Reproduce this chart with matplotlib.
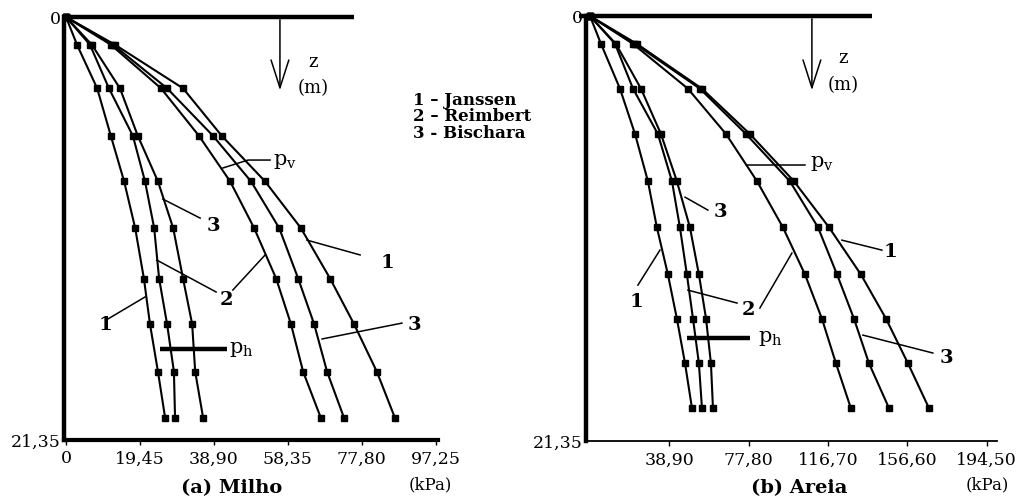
import matplotlib
matplotlib.use("Agg")
import matplotlib.pyplot as plt

# --> Serif look, with the same family inside the subscripts.
plt.rcParams['font.family'] = 'DejaVu Serif'
plt.rcParams['mathtext.fontset'] = 'dejavuserif'

# --> Depths of the computed points (m).
z_milho = [0, 1.4, 3.6, 6.0, 8.3, 10.65, 13.2, 15.5, 17.9, 20.25]
z_areia = [0, 1.4, 3.65, 5.93, 8.3, 10.62, 12.98, 15.2, 17.45, 19.7]

# --> (a) Milho: horizontal (ph) and vertical (pv) pressures, kPa.
ph_milho_janssen = [0, 2.9, 8.2, 11.8, 15.3, 18.2, 20.5, 22.1, 24.2, 26.1]
ph_milho_reimbert = [0, 6.3, 11.3, 17.6, 20.8, 23.2, 24.5, 26.6, 28.4, 28.7]
ph_milho_bischara = [0, 6.8, 14.2, 18.9, 24.2, 28.2, 30.8, 33.2, 34.0, 36.1]
pv_milho_janssen = [0, 12.9, 30.8, 41.0, 52.4, 61.8, 69.5, 75.8, 81.8, 86.6]
pv_milho_reimbert = [0, 11.8, 25.0, 35.0, 43.2, 49.5, 55.3, 59.2, 62.4, 67.1]
pv_milho_bischara = [0, 12.4, 26.6, 38.7, 48.7, 56.1, 61.1, 65.3, 68.7, 73.2]

# --> (b) Areia: horizontal (ph) and vertical (pv) pressures, kPa.
ph_areia_janssen = [0, 5.4, 14.7, 22.1, 28.4, 32.8, 38.2, 42.6, 46.6, 50.0]
ph_areia_reimbert = [0, 12.3, 21.1, 33.3, 40.2, 44.1, 47.5, 50.5, 53.4, 54.9]
ph_areia_bischara = [0, 12.7, 25.0, 34.8, 42.6, 49.0, 53.4, 56.9, 59.3, 60.3]
pv_areia_janssen = [0, 23.0, 54.9, 78.4, 100.0, 117.2, 132.8, 145.1, 155.9, 166.2]
pv_areia_reimbert = [0, 21.1, 48.0, 66.7, 81.9, 94.6, 105.4, 113.7, 120.6, 127.9]
pv_areia_bischara = [0, 22.1, 53.9, 76.5, 98.0, 111.8, 121.1, 129.4, 136.8, 146.6]

# --> Axis ticks and labels.
xticks_milho = [0, 19.45, 38.90, 58.35, 77.80, 97.25]
xlabels_milho = ['0', '19,45', '38,90', '58,35', '77,80', '97,25']
xticks_areia = [38.90, 77.80, 116.70, 155.60, 194.50]
xlabels_areia = ['38,90', '77,80', '116,70', '156,60', '194,50']
z_max = 21.35
yticks = [0, z_max]
ylabels = ['0', '21,35']
legend_lines = ['1 – Janssen', '2 – Reimbert', '3 - Bischara']

W, H = 1026, 498
fig = plt.figure(figsize=(W / 100, H / 100), dpi=100)

# --> Axes placed in pixels to follow the original layout.
ax1 = fig.add_axes([64.1 / W, 58 / H, 374.3 / W, 423 / H])
ax2 = fig.add_axes([585.9 / W, 57 / H, 411 / W, 425 / H])


def setup(ax, xlim, xticks, xlabels, bottom_lw):
    ax.set_xlim(*xlim)
    ax.set_ylim(z_max, 0)
    for s in ('top', 'right'):
        ax.spines[s].set_visible(False)
    ax.spines['left'].set_linewidth(3.2)
    ax.spines['bottom'].set_linewidth(bottom_lw)
    ax.set_xticks(xticks, xlabels, fontsize=12.5)
    ax.set_yticks(yticks, ylabels, fontsize=12.5)
    ax.tick_params(axis='x', direction='out', length=3.5, width=1, pad=4)
    ax.tick_params(axis='y', direction='out', length=1.5, width=1, pad=1)


def curves(ax, z, series):
    for vals in series:
        ax.plot(vals, z, color='black', lw=1.5, marker='s', ms=3.8,
                mec='black', mfc='black', clip_on=False)


def label(ax, txt, at, p0, p1):
    ax.text(at[0], at[1], txt, fontsize=14, fontweight='bold',
            ha='center', va='center')
    ax.plot([p0[0], p1[0]], [p0[1], p1[1]], color='black', lw=1.1)


def surface(ax, x0, x1, xa, za, xz, zz):
    # --> Top line of the silo and the depth arrow.
    ax.plot([x0, x1], [0, 0], color='black', lw=3.2, clip_on=False,
            solid_capstyle='butt')
    ax.annotate('', xy=(xa, za), xytext=(xa, 0),
                arrowprops=dict(arrowstyle='->,head_length=1.0,head_width=0.32',
                                mutation_scale=20, lw=1.1, color='black'))
    ax.text(xz, zz[0], 'z', fontsize=13, ha='center', va='center')
    ax.text(xz, zz[1], '(m)', fontsize=13, ha='center', va='center')


# --> (a) Milho.
setup(ax1, (-0.5, 98), xticks_milho, xlabels_milho, 3.0)
curves(ax1, z_milho, [ph_milho_janssen, ph_milho_reimbert, ph_milho_bischara,
                      pv_milho_janssen, pv_milho_reimbert, pv_milho_bischara])
surface(ax1, -1.0, 75.8, 56.3, 3.84, 65.0, (2.27, 3.58))
label(ax1, '3', (38.9, 10.55), (35.3, 10.15), (25.5, 9.19))
label(ax1, '2', (42.1, 14.3), (39.5, 13.88), (23.9, 12.27))
ax1.plot([43.9, 52.4], [13.78, 12.01], color='black', lw=1.1)
label(ax1, '1', (10.5, 15.55), (11.05, 15.24), (20.8, 14.13))
label(ax1, '1', (84.7, 12.42), (77.4, 12.01), (63.4, 11.26))
label(ax1, '3', (91.8, 15.55), (88.4, 15.45), (67.4, 16.25))
ax1.plot([41.3, 47.9, 53.7], [7.62, 7.22, 7.22], color='black', lw=1.1)
ax1.text(54.6, 7.3, r'p$_\mathrm{v}$', fontsize=15, ha='left', va='center')
ax1.plot([24.7, 42.4], [16.76, 16.76], color='black', lw=3.2,
         solid_capstyle='butt')
ax1.text(42.8, 16.76, r'p$_\mathrm{h}$', fontsize=15, ha='left', va='center')

# --> (b) Areia.
setup(ax2, (-2, 199.5), xticks_areia, xlabels_areia, 1.3)
curves(ax2, z_areia, [ph_areia_janssen, ph_areia_reimbert, ph_areia_bischara,
                      pv_areia_janssen, pv_areia_reimbert, pv_areia_bischara])
surface(ax2, -5.4, 138.2, 108.8, 3.87, 124.0, (2.11, 3.47))
label(ax2, '3', (64.2, 9.85), (57.8, 9.75), (46.6, 9.10))
label(ax2, '1', (23.0, 14.37), (23.5, 13.52), (34.3, 11.76))
label(ax2, '2', (77.5, 14.77), (72.1, 14.42), (48.0, 13.77))
ax2.plot([83.3, 99.0], [14.67, 11.91], color='black', lw=1.1)
label(ax2, '1', (147.1, 11.86), (143.1, 11.76), (123.5, 11.26))
label(ax2, '3', (175.0, 17.19), (168.1, 16.93), (133.8, 16.03))
ax2.plot([77.0, 105.4], [7.49, 7.49], color='black', lw=1.1)
ax2.text(107.8, 7.39, r'p$_\mathrm{v}$', fontsize=15, ha='left', va='center')
ax2.plot([47.5, 78.4], [16.18, 16.18], color='black', lw=3.2,
         solid_capstyle='butt')
ax2.text(82.4, 16.18, r'p$_\mathrm{h}$', fontsize=15, ha='left', va='center')

# --> Legend of the methods, captions and units.
for i, line in enumerate(legend_lines):
    fig.text(413 / W, 1 - (100 + 16.5 * i) / H, line, fontsize=12,
             fontweight='bold', ha='left', va='center')
fig.text(232 / W, 1 - 488 / H, '(a) Milho', fontsize=14, fontweight='bold',
         ha='center', va='center')
fig.text(799 / W, 1 - 488 / H, '(b) Areia', fontsize=14, fontweight='bold',
         ha='center', va='center')
fig.text(430 / W, 1 - 485 / H, '(kPa)', fontsize=12, ha='center', va='center')
fig.text(987 / W, 1 - 485 / H, '(kPa)', fontsize=12, ha='center', va='center')

fig.savefig('out.png', dpi=100)
